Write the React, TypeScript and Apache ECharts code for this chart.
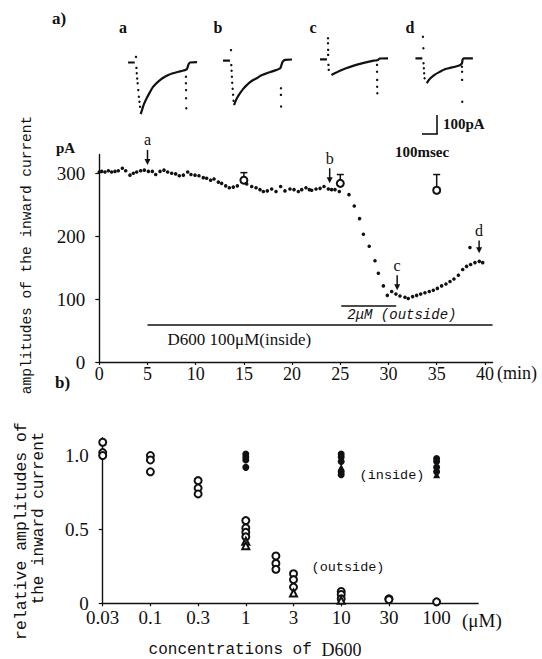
import React, { useEffect, useRef } from 'react';
import * as echarts from 'echarts';

// ---------- Panel a : time course (min, pA) ----------
const timeCourse: [number, number][] = [
  [0, 302], [0.25, 303], [0.59, 302], [0.94, 304], [1.28, 302], [1.63, 303], [1.97, 304], [2.39, 308],
  [2.74, 304], [3.18, 297], [3.53, 300], [3.88, 302], [4.29, 304], [4.67, 305], [5.09, 303], [5.5, 303],
  [5.85, 298], [6.3, 303], [6.71, 305], [7.09, 302], [7.51, 300], [7.92, 299], [8.3, 296], [8.72, 297],
  [9.17, 302], [9.51, 298], [9.93, 297], [10.34, 296], [10.79, 293], [11.14, 292], [11.55, 289], [11.9, 291],
  [12.35, 286], [12.69, 284], [13.11, 280], [13.49, 277], [13.9, 278], [14.32, 280], [15.29, 283], [15.81, 279],
  [16.26, 277], [16.67, 274], [17.02, 271], [17.43, 272], [17.88, 275], [18.33, 271], [18.81, 279], [19.26, 272],
  [19.78, 275], [20.2, 274], [20.65, 271], [21.0, 274], [21.44, 277], [21.79, 274], [22.03, 273], [22.48, 275],
  [22.9, 276], [23.31, 279], [23.76, 275], [24.1, 274], [24.45, 274], [24.9, 271], [25.9, 266], [26.45, 248],
  [27.0, 228], [27.4, 203], [28.0, 184], [28.6, 161], [28.95, 141], [29.47, 121], [29.88, 106], [30.33, 112],
  [30.77, 108], [31.19, 105], [31.71, 103], [32.05, 101], [32.5, 104], [32.92, 106], [33.34, 108], [33.78, 110],
  [34.23, 112], [34.65, 114], [35.07, 117], [35.51, 121], [35.96, 124], [36.38, 128], [36.79, 132], [37.25, 138],
  [37.7, 147], [38.1, 152], [38.45, 182], [38.52, 155], [38.97, 158], [39.42, 160], [39.77, 158],
];
// control measurements: [min, mean pA, upper error pA]
const controlMeans: [number, number, number][] = [[15, 289, 301], [25, 284, 298], [35, 273, 298]];
// arrows marking the sample traces: label, time, arrow top, arrow tip (pA)
const arrowLabels = ['a', 'b', 'c', 'd'];
const arrowTimes = [5, 23.9, 30.9, 39.4];
const arrowTops = [337, 308, 138, 193];
const arrowTips = [313, 284, 114, 173];
// drug application bars: [start min, end min, level pA]
const applicationBars: [number, number, number][] = [[5, 40.8, 59], [25.1, 30.8, 89]];
const applicationLabels = ['{s|D600 100μM(inside)}', '{i|2μM (outside)}'];
const timeTicks = [0, 5, 10, 15, 20, 25, 30, 35, 40];
const currentTicks = [0, 100, 200, 300];

// ---------- sample current traces (ms, pA) ----------
const traceAPre: [number, number][] = [[-53, 0], [-8, 0]];
const traceACurve: [number, number][] = [[31, -258], [40, -238], [53, -208], [71, -179], [93, -148], [115, -121], [137, -103], [160, -88], [187, -74], [215, -63], [240, -55], [271, -49], [300, -43], [327, -38], [340, -32], [350, -10], [360, 0], [407, 2]];
const traceADots: [number, number][] = [[0, 28], [3, -27], [5, -54], [8, -80], [11, -104], [15, -138], [19, -171], [23, -196], [27, -221], [333, -71], [333, -104], [334, -138], [334, -179], [335, -229]];
const traceBPre: [number, number][] = [[-53, 0], [-7, 0]];
const traceBCurve: [number, number][] = [[20, -222], [40, -187], [60, -163], [80, -142], [105, -122], [133, -104], [171, -88], [200, -74], [238, -63], [280, -52], [327, -38], [335, -25], [345, -5], [360, 4], [407, 6]];
const traceBDots: [number, number][] = [[0, 53], [2, -22], [4, -50], [6, -80], [8, -110], [11, -140], [14, -170], [17, -200], [333, -138], [333, -171], [334, -229]];
const traceCPre: [number, number][] = [[-53, 0], [-7, 0]];
const traceCCurve: [number, number][] = [[23, -78], [53, -67], [87, -55], [120, -45], [167, -33], [213, -23], [260, -14], [305, -7], [325, -5], [335, -3], [345, 4], [400, 5]];
const traceCDots: [number, number][] = [[0, 105], [0, 80], [1, 47], [1, 22], [3, -28], [5, -53], [327, -28], [327, -62], [328, -103], [328, -137], [329, -170]];
const traceDPre: [number, number][] = [[-53, 0], [-7, 0]];
const traceDCurve: [number, number][] = [[23, -125], [40, -105], [74, -83], [108, -68], [143, -55], [178, -48], [212, -42], [246, -33], [257, -25], [262, -5], [270, 0], [330, 0]];
const traceDDots: [number, number][] = [[-3, 108], [0, 50], [1, -25], [3, -50], [5, -75], [8, -100], [257, -42], [258, -67], [258, -108], [259, -217]];

// ---------- Panel b : dose response ----------
const concLabels = ['0.03', '0.1', '0.3', '1', '3', '10', '30', '100'];
const concValues = [0.03, 0.1, 0.3, 1, 3, 10, 30, 100];
const outsideCircles: [number, number][] = [
  [0.03, 1.09], [0.03, 1.02], [0.03, 1.0],
  [0.1, 1.0], [0.1, 0.97], [0.1, 0.89],
  [0.3, 0.83], [0.3, 0.78], [0.3, 0.74],
  [1, 0.56], [1, 0.51], [1, 0.48], [1, 0.45],
  [2, 0.32], [2, 0.27], [2, 0.23],
  [3, 0.2], [3, 0.16], [3, 0.11],
  [10, 0.08], [10, 0.06], [10, 0.03],
  [30, 0.03], [30, 0.025],
  [100, 0.01],
];
const outsideTriangles: [number, number][] = [[1, 0.42], [1, 0.39], [3, 0.07], [10, 0.02]];
const insideCircles: [number, number][] = [
  [1, 1.01], [1, 0.99], [1, 0.97], [1, 0.92],
  [10, 1.01], [10, 0.99], [10, 0.96], [10, 0.89], [10, 0.87],
  [100, 0.98], [100, 0.96], [100, 0.92], [100, 0.89],
];
const insideTriangles: [number, number][] = [[10, 0.92], [100, 0.87]];
const relTicks = [0, 0.5, 1];

// position of a concentration on the evenly spaced half-decade axis
function concPos(c: number): number {
  for (let i = 0; i < concValues.length - 1; i++) {
    const a = concValues[i], b = concValues[i + 1];
    if (c >= a && c <= b) return i + Math.log(c / a) / Math.log(b / a);
  }
  return concValues.length - 1;
}
const toPos = (arr: [number, number][]) => arr.map(([c, v]) => [concPos(c), v]);

const INK = '#111111';
const SERIF = '"Liberation Serif", "DejaVu Serif", serif';
const MONO = '"Liberation Mono", "DejaVu Sans Mono", monospace';

export default function App() {
  const ref = useRef<HTMLDivElement>(null);
  useEffect(() => {
    document.body.style.margin = '0';
    const chart = echarts.init(ref.current!, null, { renderer: 'svg' });

    const traceGrids = [
      { left: 127, top: 38.5 },
      { left: 222, top: 36.7 },
      { left: 319, top: 35.3 },
      { left: 414.4, top: 34.3 },
    ];
    const traces = [
      [traceAPre, traceACurve, traceADots],
      [traceBPre, traceBCurve, traceBDots],
      [traceCPre, traceCCurve, traceCDots],
      [traceDPre, traceDCurve, traceDDots],
    ];

    const grids: any[] = traceGrids.map((g) => ({ left: g.left, top: g.top, width: 72, height: 80 }));
    grids.push({ left: 99.3, top: 154.4, width: 393.3, height: 207.6 });
    grids.push({ left: 102.7, top: 437.8, width: 375.4, height: 165.5 });

    const hiddenAxis = (i: number, min: number, max: number) => ({
      gridIndex: i, type: 'value', min, max, show: false, splitLine: { show: false },
    });
    const xAxes: any[] = traceGrids.map((_, i) => hiddenAxis(i, -60, 420));
    const yAxes: any[] = traceGrids.map((_, i) => hiddenAxis(i, -280, 120));

    xAxes.push({
      gridIndex: 4, type: 'value', min: 0, max: 40.8, interval: 5,
      axisLine: { show: true, lineStyle: { color: INK, width: 1.4 } },
      axisTick: { show: true, length: 3, customValues: timeTicks, lineStyle: { color: INK, width: 1.2 } },
      axisLabel: {
        customValues: timeTicks, color: INK, fontFamily: SERIF, fontSize: 18, margin: 3,
        formatter: (v: number) => (v % 5 === 0 ? String(v) : ''),
      },
      splitLine: { show: false },
    });
    yAxes.push({
      gridIndex: 4, type: 'value', min: 0, max: 330, interval: 100, offset: 11,
      axisLine: { show: true, lineStyle: { color: INK, width: 1.4 } },
      axisTick: { show: true, length: 4, customValues: currentTicks, lineStyle: { color: INK, width: 1.2 } },
      axisLabel: {
        customValues: currentTicks, color: INK, fontFamily: SERIF, fontSize: 19, margin: 3,
        formatter: (v: number) => (v % 100 === 0 ? String(v) : ''),
      },
      splitLine: { show: false },
    });
    const posTicks = concLabels.map((_, i) => i);
    xAxes.push({
      gridIndex: 5, type: 'value', min: 0, max: 7.87, interval: 1,
      axisLine: { show: true, lineStyle: { color: INK, width: 1.4 } },
      axisTick: { show: true, length: 3, customValues: posTicks, lineStyle: { color: INK, width: 1.2 } },
      axisLabel: {
        customValues: posTicks, color: INK, fontFamily: SERIF, fontSize: 19, margin: 5,
        formatter: (v: number) => (Number.isInteger(v) && concLabels[v] !== undefined ? concLabels[v] : ''),
      },
      splitLine: { show: false },
    });
    yAxes.push({
      gridIndex: 5, type: 'value', min: 0, max: 1.12, interval: 0.5, offset: 11,
      axisLine: { show: true, lineStyle: { color: INK, width: 1.4 } },
      axisTick: { show: true, length: 4, customValues: relTicks, lineStyle: { color: INK, width: 1.2 } },
      axisLabel: {
        customValues: relTicks, color: INK, fontFamily: SERIF, fontSize: 19, margin: 3,
        formatter: (v: number) => (v === 0 ? '0' : Math.abs(v - 0.5) < 1e-6 ? '0.5' : Math.abs(v - 1) < 1e-6 ? '1.0' : ''),
      },
      splitLine: { show: false },
    });

    const series: any[] = [];
    traces.forEach(([pre, curve, dots], i) => {
      series.push({ type: 'line', xAxisIndex: i, yAxisIndex: i, data: pre, showSymbol: false, symbol: 'none', lineStyle: { color: INK, width: 2.2 } });
      series.push({ type: 'line', xAxisIndex: i, yAxisIndex: i, data: curve, showSymbol: false, symbol: 'none', smooth: 0.35, lineStyle: { color: INK, width: 2.2 } });
      series.push({ type: 'scatter', xAxisIndex: i, yAxisIndex: i, data: dots, symbol: 'circle', symbolSize: 2.4, itemStyle: { color: INK, opacity: 1 } });
    });

    // panel a
    series.push({ type: 'scatter', xAxisIndex: 4, yAxisIndex: 4, data: timeCourse, symbol: 'circle', symbolSize: 3.6, itemStyle: { color: INK, opacity: 1 }, clip: false });
    series.push({
      type: 'custom', xAxisIndex: 4, yAxisIndex: 4, data: controlMeans,
      renderItem: (_p: any, api: any) => {
        const c = api.coord([api.value(0), api.value(1)]);
        const t = api.coord([api.value(0), api.value(2)]);
        return {
          type: 'group', children: [
            { type: 'line', shape: { x1: c[0], y1: c[1] - 3.5, x2: t[0], y2: t[1] }, style: { stroke: INK, lineWidth: 1.5 } },
            { type: 'line', shape: { x1: t[0] - 3.5, y1: t[1], x2: t[0] + 3.5, y2: t[1] }, style: { stroke: INK, lineWidth: 1.5 } },
          ],
        };
      },
    });
    series.push({
      type: 'scatter', xAxisIndex: 4, yAxisIndex: 4, data: controlMeans.map((d) => [d[0], d[1]]),
      symbol: 'emptyCircle', symbolSize: 7, itemStyle: { color: INK, borderColor: INK, borderWidth: 1.5, opacity: 1 },
    });
    series.push({
      type: 'custom', xAxisIndex: 4, yAxisIndex: 4,
      data: arrowTimes.map((t, i) => [t, arrowTops[i], arrowTips[i]]),
      renderItem: (p: any, api: any) => {
        const top = api.coord([api.value(0), api.value(1)]);
        const tip = api.coord([api.value(0), api.value(2)]);
        return {
          type: 'group', children: [
            { type: 'line', shape: { x1: top[0], y1: top[1], x2: tip[0], y2: tip[1] - 5 }, style: { stroke: INK, lineWidth: 1.5 } },
            { type: 'polygon', shape: { points: [[tip[0] - 3, tip[1] - 6], [tip[0] + 3, tip[1] - 6], [tip[0], tip[1]]] }, style: { fill: INK } },
            { type: 'text', x: top[0], y: top[1] - 2, style: { text: arrowLabels[p.dataIndex], font: `16px ${SERIF}`, fill: INK, textAlign: 'center', textVerticalAlign: 'bottom' } },
          ],
        };
      },
    });
    series.push({
      type: 'custom', xAxisIndex: 4, yAxisIndex: 4, data: applicationBars,
      renderItem: (p: any, api: any) => {
        const s = api.coord([api.value(0), api.value(2)]);
        const e = api.coord([api.value(1), api.value(2)]);
        const inside = p.dataIndex === 0;
        return {
          type: 'group', children: [
            { type: 'line', shape: { x1: s[0], y1: s[1], x2: e[0], y2: e[1] }, style: { stroke: INK, lineWidth: 1.5 } },
            {
              type: 'text', x: s[0] + (inside ? 20 : 6), y: s[1] + (inside ? 15 : 9),
              style: {
                text: applicationLabels[p.dataIndex], fill: INK, textAlign: 'left', textVerticalAlign: 'middle',
                rich: {
                  s: { fontFamily: SERIF, fontSize: 17, fill: INK },
                  i: { fontFamily: MONO, fontSize: 14, fontStyle: 'italic', fill: INK },
                },
              },
            },
          ],
        };
      },
    });

    // panel b
    const markerStyle = { color: INK, borderColor: INK, borderWidth: 1.4, opacity: 1 };
    series.push({ type: 'scatter', xAxisIndex: 5, yAxisIndex: 5, data: toPos(outsideCircles), symbol: 'emptyCircle', symbolSize: 7, itemStyle: markerStyle, clip: false });
    series.push({ type: 'scatter', xAxisIndex: 5, yAxisIndex: 5, data: toPos(outsideTriangles), symbol: 'emptyTriangle', symbolSize: 7, itemStyle: markerStyle, clip: false });
    series.push({ type: 'scatter', xAxisIndex: 5, yAxisIndex: 5, data: toPos(insideCircles), symbol: 'circle', symbolSize: 7, itemStyle: { color: INK, opacity: 1 }, clip: false });
    series.push({ type: 'scatter', xAxisIndex: 5, yAxisIndex: 5, data: toPos(insideTriangles), symbol: 'triangle', symbolSize: 7, itemStyle: { color: INK, opacity: 1 }, clip: false });

    const txt = (text: string, x: number, y: number, font: string, align = 'left', extra: any = {}) => ({
      type: 'text', x, y, ...extra,
      style: { text, font, fill: INK, textAlign: align, textVerticalAlign: 'middle' },
    });

    const graphic: any[] = [
      txt('a)', 52, 18, `bold 17px ${SERIF}`),
      txt('a', 123, 27, `bold 16px ${SERIF}`, 'center'),
      txt('b', 218, 27, `bold 16px ${SERIF}`, 'center'),
      txt('c', 313, 27, `bold 16px ${SERIF}`, 'center'),
      txt('d', 410, 27, `bold 16px ${SERIF}`, 'center'),
      { type: 'line', shape: { x1: 437, y1: 115, x2: 437, y2: 134 }, style: { stroke: INK, lineWidth: 1.6 } },
      { type: 'line', shape: { x1: 422, y1: 134, x2: 437.8, y2: 134 }, style: { stroke: INK, lineWidth: 1.6 } },
      txt('100pA', 443, 124, `bold 15px ${SERIF}`),
      txt('100msec', 395, 152, `bold 15px ${SERIF}`),
      txt('pA', 56, 148, `bold 15px ${SERIF}`),
      txt('amplitudes of the inward current', 27, 255, `14.5px ${MONO}`, 'center', { rotation: Math.PI / 2 }),
      txt('(min)', 497, 373, `18px ${SERIF}`),
      txt('b)', 55, 382, `bold 17px ${SERIF}`),
      txt('relative amplitudes of', 21, 531, `16.5px ${MONO}`, 'center', { rotation: Math.PI / 2 }),
      txt('the inward current', 39, 518, `16px ${MONO}`, 'center', { rotation: Math.PI / 2 }),
      txt('(inside)', 392, 475, `13.5px ${MONO}`, 'center'),
      txt('(outside)', 348, 567, `13.5px ${MONO}`, 'center'),
      txt('(μM)', 462, 620, `19px ${SERIF}`),
      {
        type: 'text', x: 255, y: 650,
        style: {
          text: '{m|concentrations of }{s|D600}', fill: INK, textAlign: 'center', textVerticalAlign: 'middle',
          rich: { m: { fontFamily: MONO, fontSize: 16, fill: INK }, s: { fontFamily: SERIF, fontSize: 18, fill: INK } },
        },
      },
    ];

    chart.setOption({
      animation: false,
      backgroundColor: '#ffffff',
      textStyle: { fontFamily: SERIF, color: INK },
      grid: grids,
      xAxis: xAxes,
      yAxis: yAxes,
      series,
      graphic,
    });
    return () => chart.dispose();
  }, []);
  return <div ref={ref} style={{ width: 542, height: 659 }} />;
}
